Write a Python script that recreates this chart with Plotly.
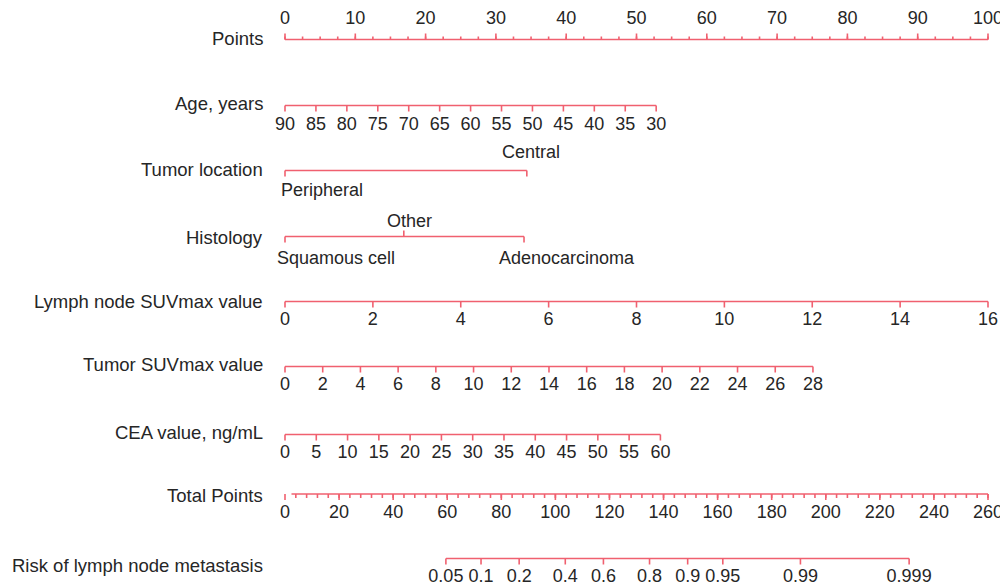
import math
import plotly.graph_objects as go

# ---------------- data ----------------
points_labels = [0, 10, 20, 30, 40, 50, 60, 70, 80, 90, 100]
points_minor_step = 2.5

age_labels = [90, 85, 80, 75, 70, 65, 60, 55, 50, 45, 40, 35, 30]
age_points_at_30 = 52.8          # points given to age 30 (age 90 -> 0)

loc_cats = ["Peripheral", "Central"]
loc_points = [0.0, 34.4]

hist_cats = ["Squamous cell", "Other", "Adenocarcinoma"]
hist_points = [0.0, 16.9, 34.0]

lymph_labels = [0, 2, 4, 6, 8, 10, 12, 14, 16]
lymph_points_at_max = 100.0

tsuv_labels = [0, 2, 4, 6, 8, 10, 12, 14, 16, 18, 20, 22, 24, 26, 28]
tsuv_points_at_max = 75.1

cea_labels = [0, 5, 10, 15, 20, 25, 30, 35, 40, 45, 50, 55, 60]
cea_points_at_max = 53.4

total_labels = [0, 20, 40, 60, 80, 100, 120, 140, 160, 180, 200, 220, 240, 260]
total_minor_step = 4
total_max = 260

risk_labels = [0.05, 0.1, 0.2, 0.4, 0.6, 0.8, 0.9, 0.95, 0.99, 0.999]
logit_intercept = -6.366      # linear predictor = intercept + slope * total points
logit_slope = 0.0575

row_names = ["Points", "Age, years", "Tumor location", "Histology",
             "Lymph node SUVmax value", "Tumor SUVmax value", "CEA value, ng/mL",
             "Total Points", "Risk of lymph node metastasis"]

# ---------------- layout constants ----------------
W, H = 1008, 588          # window size
OFF = 8                   # page body margin of the html page
FW, FH = W - OFF, H - OFF # figure size
X0, PX_PER_PT = 285.0, 7.03
RED = "#F0606F"
TXT = "#262626"
FONT = "Liberation Sans, Arial, Helvetica, sans-serif"
TICK_FS = 18
LAB_FS = 18.5

row_y = [39.5, 105.5, 170.5, 236.5, 301.5, 366.5, 434.5, 494, 558.5]
row_label_y = [38, 103, 169, 237, 301, 364, 432, 495, 565]


def lin_map(vals, v0, v1, p0, p1):
    return [p0 + (v - v0) * (p1 - p0) / (v1 - v0) for v in vals]


def total_to_pts(t):
    return [v * 100.0 / total_max for v in t]


def risk_to_total(p):
    return [(math.log(v / (1 - v)) - logit_intercept) / logit_slope for v in p]


fig = go.Figure()


def add_axis(xpos, y, ticklen, direction, line_from=None, line_to=None, minor=None, minorlen=3):
    xs, ys = [], []
    a = min(xpos) if line_from is None else line_from
    b = max(xpos) if line_to is None else line_to
    xs += [a, b, None]
    ys += [y, y, None]
    for x in xpos:
        xs += [x, x, None]
        ys += [y, y + direction * ticklen, None]
    if minor:
        for x in minor:
            xs += [x, x, None]
            ys += [y, y + direction * minorlen, None]
    fig.add_trace(go.Scatter(x=xs, y=ys, mode="lines",
                             line=dict(color=RED, width=1.6),
                             hoverinfo="skip", showlegend=False))


def add_labels(xpos, texts, y, size=TICK_FS):
    fig.add_trace(go.Scatter(x=xpos, y=[y] * len(xpos), mode="text",
                             text=[str(t) for t in texts],
                             textposition="middle center",
                             textfont=dict(family=FONT, size=size, color=TXT),
                             hoverinfo="skip", showlegend=False))


# Points
pmin = [i * points_minor_step for i in range(int(100 / points_minor_step) + 1)]
add_axis(points_labels, row_y[0], 6, -1, minor=pmin, minorlen=3)
add_labels(points_labels, points_labels, row_y[0] - 20)

# Age
age_x = lin_map(age_labels, 90, 30, 0, age_points_at_30)
add_axis(age_x, row_y[1], 6, 1)
add_labels(age_x, age_labels, row_y[1] + 20)

# Tumor location
add_axis(loc_points, row_y[2], 6, 1)

# Histology
fig.add_trace(go.Scatter(
    x=[hist_points[0], hist_points[2], None, hist_points[0], hist_points[0], None,
       hist_points[2], hist_points[2], None, hist_points[1], hist_points[1]],
    y=[row_y[3], row_y[3], None, row_y[3], row_y[3] + 6, None,
       row_y[3], row_y[3] + 6, None, row_y[3], row_y[3] - 6],
    mode="lines", line=dict(color=RED, width=1.6), hoverinfo="skip", showlegend=False))

# Lymph node SUVmax
lx = lin_map(lymph_labels, 0, 16, 0, lymph_points_at_max)
add_axis(lx, row_y[4], 6, 1)
add_labels(lx, lymph_labels, row_y[4] + 19)

# Tumor SUVmax
tx = lin_map(tsuv_labels, 0, 28, 0, tsuv_points_at_max)
add_axis(tx, row_y[5], 6, 1)
add_labels(tx, tsuv_labels, row_y[5] + 19)

# CEA
cx = lin_map(cea_labels, 0, 60, 0, cea_points_at_max)
add_axis(cx, row_y[6], 6, 1)
add_labels(cx, cea_labels, row_y[6] + 19)

# Total points
tot_x = total_to_pts(total_labels)
tot_minor = total_to_pts([i * total_minor_step for i in range(1, int(total_max / total_minor_step) + 1)])
add_axis(tot_x, row_y[7], 6, 1, line_from=total_to_pts([2.4])[0], minor=tot_minor, minorlen=4)
add_labels(tot_x, total_labels, row_y[7] + 19)

# Risk
rx = total_to_pts(risk_to_total(risk_labels))
add_axis(rx, row_y[8], 6, 1)
add_labels(rx, risk_labels, row_y[8] + 19)

annotations = []
for name, y in zip(row_names, row_label_y):
    annotations.append(dict(x=(265 - OFF) / FW, xref="paper", y=y, yref="y", text=name,
                            xanchor="right", yanchor="middle", showarrow=False,
                            font=dict(family=FONT, size=LAB_FS, color=TXT)))


def cat_label(x, y, text, anchor, shift):
    annotations.append(dict(x=x, y=y, xref="x", yref="y", text=text, xanchor=anchor,
                            yanchor="middle", xshift=shift, showarrow=False,
                            font=dict(family=FONT, size=TICK_FS, color=TXT)))


cat_label(loc_points[0], row_y[2] + 19, loc_cats[0], "left", -6)
cat_label(loc_points[1], row_y[2] - 19, loc_cats[1], "center", 4)
cat_label(hist_points[0], row_y[3] + 21, hist_cats[0], "left", -10)
cat_label(hist_points[1], row_y[3] - 16, hist_cats[1], "center", 6)
cat_label(hist_points[2], row_y[3] + 21, hist_cats[2], "center", 43)

fig.update_layout(
    width=FW, height=FH,
    margin=dict(l=0, r=0, t=0, b=0),
    paper_bgcolor="white", plot_bgcolor="white",
    xaxis=dict(range=[(OFF - X0) / PX_PER_PT, (W - X0) / PX_PER_PT], visible=False, fixedrange=True),
    yaxis=dict(range=[H, OFF], visible=False, fixedrange=True),
    annotations=annotations,
    showlegend=False,
)

fig.write_html("out.html")
